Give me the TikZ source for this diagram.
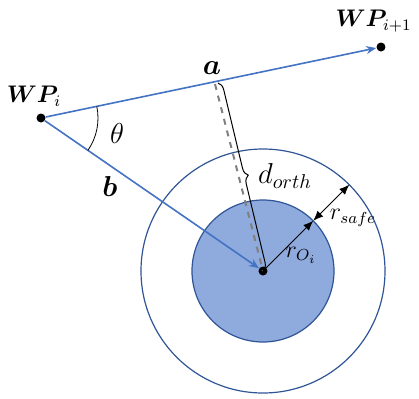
\documentclass[tikz,border=0pt]{standalone}
\usepackage{amsmath,bm}
\usetikzlibrary{arrows.meta,decorations.pathreplacing}
\definecolor{lineblue}{HTML}{4472C4}
\definecolor{darkblue}{HTML}{2F5597}
\definecolor{obsfill}{HTML}{8FAADC}

\begin{document}
\begin{tikzpicture}[x=0.5pt,y=-0.5pt,
    wp/.style={circle,fill=black,inner sep=0pt,minimum size=4.5pt},
    vec/.style={lineblue,line width=0.8pt,-{Stealth[length=5pt,width=4pt]}},
    rarrow/.style={black,line width=0.4pt}]
    \useasboundingbox (0,0) rectangle (419,398);
    % zona de seguridad y obstaculo
    \draw[darkblue,line width=0.6pt] (263,271) circle (122);
    \filldraw[fill=obsfill,draw=darkblue,line width=0.6pt] (263,271) circle (71);
    % waypoints y centro del obstaculo
    \node[wp] (wpi) at (41,118) {};
    \node[wp] (wpn) at (381,47) {};
    \node[wp] (obs) at (263,271) {};
    \node (wpilab) at (34,96) {\large $\bm{WP}_{i}$};
    \node[anchor=east,inner sep=1pt] (wpnlab) at (414,21) {\large $\bm{WP}_{i+1}$};
    % vectores a y b
    \draw[vec] (wpi) -- (wpn);
    \draw[vec] (wpi) -- (obs);
    \node (alab) at (212,68) {\Large $\bm{a}$};
    \node (blab) at (110,186) {\Large $\bm{b}$};
    % angulo entre a y b
    \draw[line width=0.4pt] ([shift={(-11.8:57)}]wpi.center) arc[start angle=-11.8,end angle=34.6,radius=57];
    \node (theta) at (117,133) {\Large $\theta$};
    % distancia ortogonal, discontinua y con llave
    \coordinate (foot) at (215,84);
    \coordinate (bracetop) at (218,83);
    \draw[gray,dashed,line width=1pt] (foot) -- (obs.center);
    \draw[line width=0.5pt,decorate,decoration={brace,amplitude=4pt}] (bracetop) -- (obs.center);
    \node (dlab) at (285,176) {\Large $d_{orth}$};
    % radios del obstaculo y de seguridad
    \coordinate (rin) at (313.2,220.8);
    \coordinate (rout) at (349.3,184.7);
    \draw[rarrow,-{Latex[length=5pt,width=4pt]}] (obs.center) -- (rin);
    \draw[rarrow,{Latex[length=5pt,width=4pt]}-{Latex[length=5pt,width=4pt]}] (rin) -- (rout);
    \node (rolab) at (301,255) {\large $r_{O_i}$};
    \node (rslab) at (353,218) {\large $r_{safe}$};
\end{tikzpicture}
\end{document}
